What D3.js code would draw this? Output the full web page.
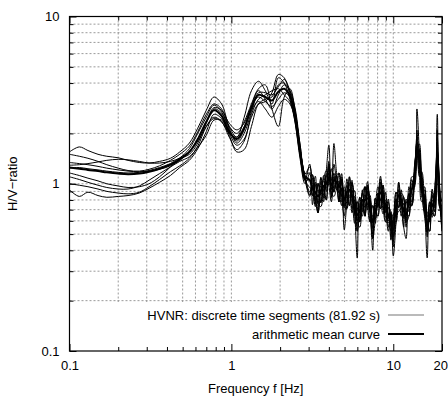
<!DOCTYPE html>
<html><head><meta charset="utf-8">
<script src="https://cdn.jsdelivr.net/npm/d3@7"></script>
<style>
body{margin:0;background:#fff}
svg{display:block}
text{font-family:"Liberation Sans",Arial,Helvetica,sans-serif;font-size:13px;fill:#000}
</style>
</head><body>
<svg id="c" width="448" height="399"></svg>
<script>
// ---------------- data ----------------
const freqs = [0.10,0.115,0.13,0.15,0.17,0.20,0.23,0.27,0.31,0.36,0.42,0.48,0.55,0.62,0.70,0.78,0.87,0.97,1.08,1.2,1.33,1.47,1.62,1.78,1.95,2.12,2.3,2.48,2.66,2.85,
  3.05,3.17,3.3,3.43,3.57,3.71,3.86,4.0,4.15,4.3,4.46,4.62,4.8,4.98,5.17,5.36,5.56,5.77,5.99,6.21,6.45,6.69,6.94,7.2,7.47,7.75,8.04,8.34,8.65,8.98,9.32,9.67,10.0,10.4,10.8,11.2,11.6,12.0,12.5,13.0,13.5,14.0,14.5,15.0,15.6,16.2,16.8,17.4,18.0,18.7,19.4,20.0];

const meanCurve = [1.25,1.23,1.21,1.19,1.17,1.15,1.14,1.15,1.18,1.23,1.30,1.40,1.55,1.85,2.35,2.75,2.55,2.05,1.85,2.15,2.85,3.40,3.30,3.15,3.55,3.70,3.35,2.50,1.55,1.10,
  1.05,0.94,0.89,0.84,0.91,0.97,1.00,1.09,0.98,1.05,1.02,0.97,0.92,0.80,0.89,0.92,0.84,0.73,0.65,0.69,0.80,0.80,0.82,0.74,0.59,0.68,0.80,0.89,0.82,0.74,0.65,0.57,0.53,0.74,0.85,0.80,0.69,0.65,0.80,0.92,1.05,1.60,1.38,0.98,0.80,0.57,0.65,0.74,0.80,1.55,0.80,0.65];

const seg1 = [1.55,1.66,1.58,1.50,1.46,1.43,1.38,1.34,1.33,1.36,1.42,1.55,1.75,2.15,2.75,3.3,3.0,2.2,1.9,2.5,3.6,4.1,3.6,3.0,4.3,4.0,3.2,2.3,1.45,1.05,
  1.31,0.85,0.98,0.67,1.09,0.82,1.15,1.04,1.23,0.89,1.12,0.78,1.06,0.72,1.07,0.74,1.05,0.69,0.78,0.59,0.92,0.64,0.98,0.67,0.74,0.58,0.88,0.71,0.98,0.67,0.81,0.48,0.61,0.59,1.02,0.72,0.76,0.55,0.96,0.74,1.16,1.76,1.17,1.13,0.68,0.68,0.59,0.85,0.68,1.63,0.72,0.75];
const seg2 = [1.50,1.46,1.42,1.36,1.30,1.24,1.20,1.19,1.22,1.28,1.38,1.50,1.68,2.05,2.6,3.0,2.8,2.15,1.75,2.0,2.7,3.5,3.5,3.4,3.8,4.2,3.6,2.7,1.6,1.1,
  0.89,1.08,0.76,1.01,0.77,1.12,0.90,1.31,0.83,1.16,0.92,1.16,0.78,0.92,0.76,1.10,0.71,0.80,0.52,0.83,0.68,0.96,0.70,0.85,0.47,0.82,0.72,1.02,0.70,0.89,0.55,0.66,0.42,0.89,0.72,0.92,0.62,0.78,0.68,1.06,0.95,1.52,1.59,0.83,0.92,0.48,0.75,0.63,0.92,1.40,0.92,0.55];
const seg3 = [1.34,1.32,1.30,1.27,1.24,1.21,1.19,1.18,1.19,1.22,1.28,1.38,1.55,1.85,2.35,2.85,2.75,2.3,2.1,2.3,2.9,3.3,3.1,2.9,3.2,3.5,3.3,2.6,1.7,1.15,
  1.26,0.99,0.73,0.97,0.96,0.78,1.20,1.70,0.83,1.31,1.02,0.78,1.10,0.84,0.71,1.10,0.84,0.58,0.78,0.72,0.64,0.96,0.86,0.59,0.74,0.68,0.64,1.07,0.86,0.59,0.78,0.60,0.45,0.89,0.85,0.64,0.83,0.68,0.64,1.10,1.10,2.80,1.52,0.88,0.96,0.60,0.52,0.89,0.80,2.60,0.84,0.78];
const seg4 = [0.92,0.84,0.89,0.85,0.83,0.84,0.85,0.88,0.94,1.02,1.12,1.25,1.38,1.62,2.05,2.6,2.45,1.95,1.55,1.6,2.2,3.0,3.2,3.3,3.9,4.0,3.5,2.5,1.5,1.05,
  0.84,1.13,0.85,0.67,1.09,0.92,0.80,1.31,0.93,1.74,1.17,0.92,0.74,0.96,0.85,0.74,1.01,0.69,0.36,0.83,0.76,0.64,0.98,0.70,0.40,0.82,0.76,0.71,0.98,0.70,0.52,0.68,0.37,0.59,1.02,0.76,0.55,0.78,0.76,0.74,1.26,1.52,1.10,1.18,0.76,0.36,0.78,0.70,0.64,1.86,0.76,0.52];
const seg5 = [1.00,0.98,0.96,0.93,0.90,0.88,0.87,0.89,0.96,1.06,1.18,1.28,1.42,1.68,2.2,2.5,2.35,1.9,1.6,1.8,2.6,3.2,3.4,3.6,3.7,3.4,3.1,2.4,1.5,1.05,
  1.05,0.75,1.02,0.92,0.77,0.97,0.80,1.25,1.08,0.89,1.02,0.78,1.06,0.53,0.76,0.92,0.67,0.84,0.72,0.59,0.80,0.64,0.94,0.81,0.50,0.68,0.64,1.02,0.90,0.63,0.65,0.46,0.61,0.81,0.72,0.80,0.55,0.47,0.88,0.78,1.05,1.76,1.59,1.08,0.68,0.57,0.52,0.85,0.88,1.47,0.80,0.52];
const seg6 = [1.16,1.12,1.08,1.04,1.00,0.97,0.95,0.96,1.00,1.10,1.26,1.42,1.62,2.0,2.5,2.95,2.7,2.1,1.8,2.1,2.9,3.6,3.2,2.8,3.4,3.9,3.6,2.8,1.7,1.15,
  1.16,1.13,0.80,0.67,0.91,1.07,1.20,0.98,0.78,1.05,1.12,1.16,0.83,0.64,0.89,1.01,1.01,0.66,0.52,0.69,0.88,0.96,0.74,0.59,0.59,0.75,0.96,0.80,0.66,0.74,0.72,0.68,0.48,0.59,0.85,0.88,0.83,0.59,0.64,0.92,1.16,1.92,1.24,0.78,0.80,0.63,0.78,0.67,0.64,1.55,0.88,0.78];
const seg7 = [1.24,1.25,1.23,1.21,1.19,1.17,1.16,1.17,1.20,1.25,1.32,1.43,1.56,1.8,2.2,2.45,2.35,2.0,1.9,2.2,2.75,3.1,2.8,2.5,2.9,3.2,3.0,2.4,1.5,1.05,
  0.95,0.94,1.11,0.76,0.73,0.87,1.00,1.36,0.88,0.84,0.92,0.97,1.15,0.72,0.71,0.83,0.84,0.91,0.59,0.55,0.72,0.80,1.03,0.67,0.47,0.61,0.80,1.11,0.74,0.59,0.59,0.57,0.66,0.67,0.68,0.72,0.69,0.81,0.72,0.74,0.95,1.60,1.73,0.88,0.64,0.51,0.65,0.93,0.72,1.24,0.72,0.65];
const seg8 = [1.29,1.30,1.32,1.35,1.38,1.40,1.39,1.36,1.33,1.33,1.36,1.42,1.50,1.75,2.3,2.8,2.65,2.2,2.0,2.35,3.0,3.7,3.9,2.8,2.2,3.3,3.7,2.7,1.6,1.1,
  0.86,0.92,0.80,0.92,0.86,1.04,0.94,1.16,0.92,1.10,0.94,1.04,0.86,0.86,0.82,1.00,0.78,0.80,0.60,0.76,0.74,0.86,0.76,0.80,0.54,0.74,0.74,0.96,0.76,0.80,0.60,0.62,0.48,0.80,0.78,0.86,0.64,0.70,0.74,1.00,0.98,2.10,1.26,1.06,0.74,0.62,0.60,0.80,0.74,2.10,0.72,0.70];
const seg9 = [1.10,1.06,1.02,0.98,0.95,0.93,0.93,0.97,1.05,1.15,1.26,1.36,1.45,1.65,1.95,2.4,2.4,2.0,1.7,1.85,2.5,3.0,3.1,3.5,4.5,4.3,3.4,2.3,1.4,1.0,
  1.15,0.85,1.00,0.76,1.02,0.90,1.12,0.98,1.06,0.94,1.12,0.88,1.02,0.74,0.98,0.84,0.92,0.66,0.72,0.62,0.88,0.72,0.90,0.68,0.64,0.62,0.88,0.80,0.90,0.68,0.72,0.52,0.58,0.68,0.92,0.74,0.76,0.60,0.86,0.84,1.14,1.62,1.50,0.90,0.86,0.52,0.70,0.68,0.86,1.55,0.88,0.60];
const segments = [seg1,seg2,seg3,seg4,seg5,seg6,seg7,seg8,seg9];

const xTickValues = [0.1,1,10,20];
const xTickLabels = ["0.1","1","10","20"];
const yTickValues = [0.1,1,10];
const yTickLabels = ["0.1","1","10"];
const legendLabels = ["HVNR: discrete time segments (81.92 s)","arithmetic mean curve"];
const xTitle = "Frequency f [Hz]";
const yTitle = "H/V\u2212ratio";

// ---------------- layout ----------------
const L=69.5, R=442, T=16.5, B=351;
const svg = d3.select("#c");
const x = d3.scaleLog().domain([0.1,20]).range([L,R]);
const y = d3.scaleLog().domain([0.1,10]).range([B,T]);

const xMinor=[], yMinor=[];
[0.1,1,10].forEach(d=>{for(let k=1;k<=9;k++){const v=+(d*k).toPrecision(3); if(v>=0.1&&v<=20) xMinor.push(v); if(v>=0.1&&v<=10) yMinor.push(v);}});

// grid
const grid = svg.append("g").attr("stroke","#808080").attr("stroke-width",0.8).attr("stroke-dasharray","2,2");
xMinor.filter(v=>v>0.1&&v<20).forEach(v=>grid.append("line").attr("x1",x(v)).attr("x2",x(v)).attr("y1",T).attr("y2",B));
yMinor.filter(v=>v>0.1&&v<10).forEach(v=>grid.append("line").attr("x1",L).attr("x2",R).attr("y1",y(v)).attr("y2",y(v)));

// curves
svg.append("clipPath").attr("id","clip").append("rect").attr("x",L).attr("y",T).attr("width",R-L).attr("height",B-T);
const line = d3.line().x(d=>x(d.f)).y(d=>y(d.v)).curve(d3.curveCatmullRom.alpha(0.5));
const toPts = arr => arr.map((v,i)=>({f:freqs[i],v}));
const cg = svg.append("g").attr("clip-path","url(#clip)");
segments.forEach(s=>cg.append("path").attr("d",line(toPts(s))).attr("fill","none").attr("stroke","#000").attr("stroke-width",1));
cg.append("path").attr("d",line(toPts(meanCurve))).attr("fill","none").attr("stroke","#000").attr("stroke-width",2);

// legend
svg.append("rect").attr("x",112).attr("y",302).attr("width",R-112-0.5).attr("height",B-302-0.5).attr("fill","#fff");
const lg = svg.append("g");
lg.append("text").attr("x",380).attr("y",319.5).attr("text-anchor","end").text(legendLabels[0]);
lg.append("line").attr("x1",388).attr("x2",424).attr("y1",315).attr("y2",315).attr("stroke","#777").attr("stroke-width",1.2);
lg.append("text").attr("x",380).attr("y",338.5).attr("text-anchor","end").text(legendLabels[1]);
lg.append("line").attr("x1",388).attr("x2",424).attr("y1",334).attr("y2",334).attr("stroke","#000").attr("stroke-width",2);

// axes (ticks inward)
const minX = xMinor.filter(v=>!xTickValues.includes(v));
const minY = yMinor.filter(v=>!yTickValues.includes(v));
function addAxis(axisFn, scale, pos, vals, size, labels){
  const a = axisFn(scale).tickValues(vals).tickSize(size).tickPadding(8);
  a.tickFormat(labels ? ((d,i)=>labels[i]) : ()=> "");
  const g = svg.append("g").attr("transform",pos).call(a);
  g.select(".domain").remove();
  g.selectAll("line").attr("stroke","#000");
  g.selectAll("text").style("font-family","Liberation Sans, Arial, sans-serif").style("font-size","13px").attr("fill","#000");
  return g;
}
addAxis(d3.axisBottom, x, `translate(0,${B})`, minX, -4);
const xb = addAxis(d3.axisBottom, x, `translate(0,${B})`, xTickValues, -7, xTickLabels);
xb.selectAll("text").attr("y",10);
xb.selectAll("text").filter(d=>d===20).attr("text-anchor","end").attr("x",5.5);
addAxis(d3.axisTop, x, `translate(0,${T})`, minX, -4);
addAxis(d3.axisTop, x, `translate(0,${T})`, xTickValues, -7);
addAxis(d3.axisLeft, y, `translate(${L},0)`, minY, -4);
addAxis(d3.axisLeft, y, `translate(${L},0)`, yTickValues, -7, yTickLabels).selectAll("text").attr("x",-10);
addAxis(d3.axisRight, y, `translate(${R},0)`, minY, -4);
addAxis(d3.axisRight, y, `translate(${R},0)`, yTickValues, -7);

// frame
svg.append("rect").attr("x",L).attr("y",T).attr("width",R-L).attr("height",B-T).attr("fill","none").attr("stroke","#000").attr("stroke-width",1.2);

// titles
svg.append("text").attr("x",(L+R)/2).attr("y",393).attr("text-anchor","middle").text(xTitle);
svg.append("text").attr("transform",`translate(17,${(T+B)/2}) rotate(-90)`).attr("text-anchor","middle").text(yTitle);
</script>
</body></html>
